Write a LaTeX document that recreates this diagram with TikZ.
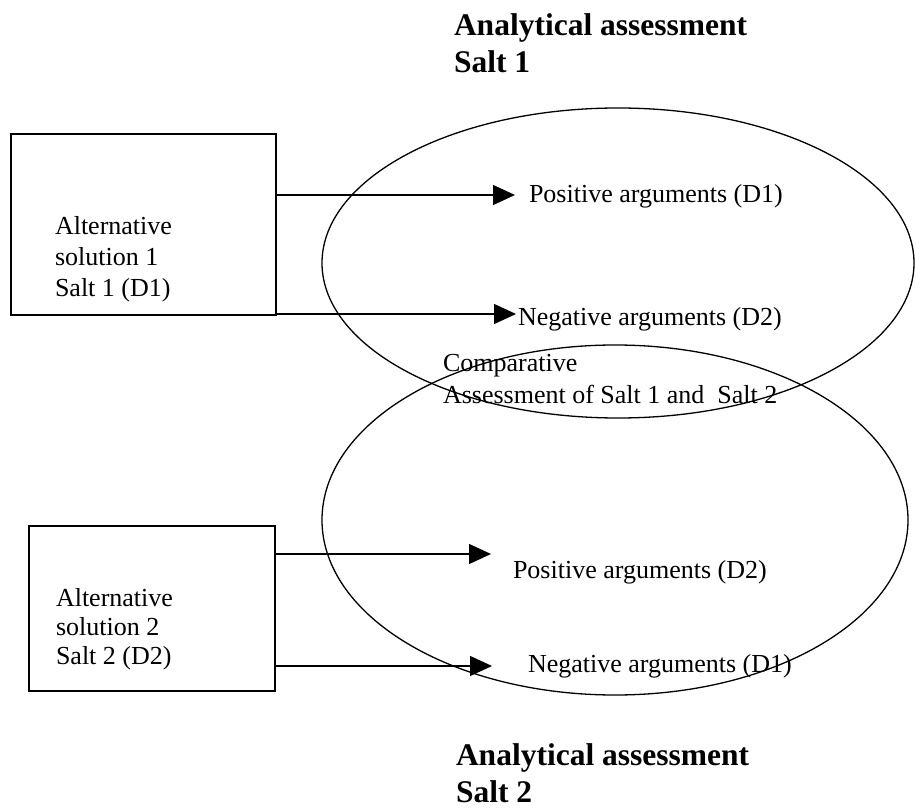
\documentclass[tikz,border=0pt]{standalone}
\usepackage{fontspec}
\setmainfont{Liberation Serif}
\usetikzlibrary{shapes.geometric,arrows.meta}
\begin{document}
\begin{tikzpicture}[x=1pt,y=-1pt,
  every node/.style={inner sep=0pt, outer sep=0pt},
  boxnode/.style={draw, line width=1.4pt, rectangle},
  ell/.style={draw, line width=1.3pt, ellipse},
  txt/.style={anchor=base west, font=\fontsize{26}{30}\selectfont},
  ttl/.style={anchor=base west, font=\fontsize{31.5}{38}\selectfont\bfseries},
  arr/.style={line width=1.3pt, -{Triangle[length=22pt,width=20pt]}}]
\useasboundingbox (0,0) rectangle (916,810);
% ellipses
\node[ell, minimum width=592pt, minimum height=310pt] (e1) at (618,263) {};
\node[ell, minimum width=586pt, minimum height=350pt] (e2) at (615,520) {};
% boxes
\node[boxnode, minimum width=265pt, minimum height=181pt] (b1) at (143.5,224.5) {};
\node[boxnode, minimum width=246pt, minimum height=165pt] (b2) at (152,608.5) {};
% box texts
\node[txt] (b1l1) at (55,235) {Alternative};
\node[txt] (b1l2) at (55,266) {solution 1};
\node[txt] (b1l3) at (55,297) {Salt 1 (D1)};
\node[txt] (b2l1) at (56,606) {Alternative};
\node[txt] (b2l2) at (56,635) {solution 2};
\node[txt] (b2l3) at (56,664) {Salt 2 (D2)};
% titles
\node[ttl] (t1a) at (454,36) {Analytical assessment};
\node[ttl] (t1b) at (454,73) {Salt 1};
\node[ttl] (t2a) at (456,765) {Analytical assessment};
\node[ttl] (t2b) at (456,802) {Salt 2};
% comparative
\node[txt] (c1) at (443,372) {Comparative};
\node[txt] (c2) at (443,403) {Assessment of Salt 1 and\ \ Salt 2};
% argument labels
\node[txt] (p1) at (529,203) {Positive arguments (D1)};
\node[txt] (n1) at (518,326) {Negative arguments (D2)};
\node[txt] (p2) at (513,578) {Positive arguments (D2)};
\node[txt] (n2) at (528,672) {Negative arguments (D1)};
% arrow tips
\coordinate (a1) at (515,195);
\coordinate (a2) at (516,314);
\coordinate (a3) at (491,554);
\coordinate (a4) at (492,666);
\draw[arr] (b1.east |- a1) -- (a1);
\draw[arr] (b1.east |- a2) -- (a2);
\draw[arr] (b2.east |- a3) -- (a3);
\draw[arr] (b2.east |- a4) -- (a4);
\end{tikzpicture}
\end{document}
